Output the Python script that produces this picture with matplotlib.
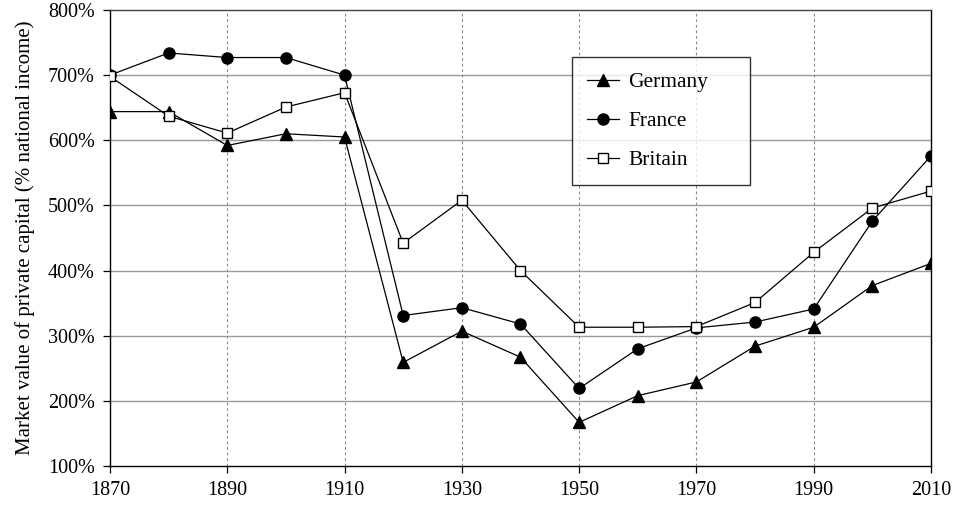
import matplotlib
matplotlib.use("Agg")
import matplotlib.pyplot as plt

# --- data --------------------------------------------------------------------
years = [1870, 1880, 1890, 1900, 1910, 1920, 1930, 1940,
         1950, 1960, 1970, 1980, 1990, 2000, 2010]
germany = [644, 644, 592, 610, 605, 259, 307, 267,
           167, 208, 229, 284, 313, 377, 411]
france = [700, 734, 727, 727, 700, 331, 343, 318,
          219, 280, 312, 321, 341, 476, 576]
britain = [698, 637, 611, 651, 673, 442, 508, 400,
           313, 313, 314, 351, 428, 496, 522]

xticks = list(range(1870, 2011, 20))
yticks = list(range(100, 801, 100))

# --- figure ------------------------------------------------------------------
plt.rcParams['font.family'] = ['Liberation Serif', 'DejaVu Serif']

fig = plt.figure(figsize=(9.62, 5.09), dpi=100)
ax = fig.add_axes([0.1143, 0.0845, 0.8535, 0.8959])

lw = 0.9
ax.plot(years, germany, color='black', lw=lw, marker='^', ms=8.5,
        mfc='black', mec='black', label='Germany', zorder=3)
ax.plot(years, france, color='black', lw=lw, marker='o', ms=8,
        mfc='black', mec='black', label='France', zorder=3)
ax.plot(years, britain, color='black', lw=lw, marker='s', ms=7.5,
        mfc='white', mec='black', mew=1.0, label='Britain', zorder=4)

ax.set_xlim(1870, 2010)
ax.set_ylim(100, 800)
ax.set_xticks(xticks)
ax.set_yticks(yticks)
ax.set_yticklabels([f"{v}%" for v in yticks])
ax.tick_params(direction='out', length=5, width=0.9, labelsize=14.5, pad=6)

# grid: solid horizontal, dotted vertical (inside only)
for v in yticks[1:-1]:
    ax.axhline(v, color='#9a9a9a', lw=1.0, zorder=1)
for x in xticks[1:-1]:
    ax.axvline(x, color='#8a8a8a', lw=0.8, ls=(0, (2.5, 2.5)), zorder=1)

for s in ['left', 'bottom', 'right']:
    ax.spines[s].set_color('black')
    ax.spines[s].set_linewidth(1.0)
ax.spines['top'].set_color('#444444')
ax.spines['top'].set_linewidth(1.0)

ax.set_ylabel("Market value of private capital (% national income)",
              fontsize=15, labelpad=9)

leg = ax.legend(loc='upper left', bbox_to_anchor=(0.5627, 0.6096, 0.2168, 0.2874),
                mode='expand', fontsize=15.5, frameon=True, fancybox=False,
                edgecolor='black', borderpad=0.7, labelspacing=0.88,
                handlelength=1.5, handletextpad=0.4, borderaxespad=0)
leg.get_frame().set_linewidth(1.0)

plt.savefig("out.png", dpi=100)
